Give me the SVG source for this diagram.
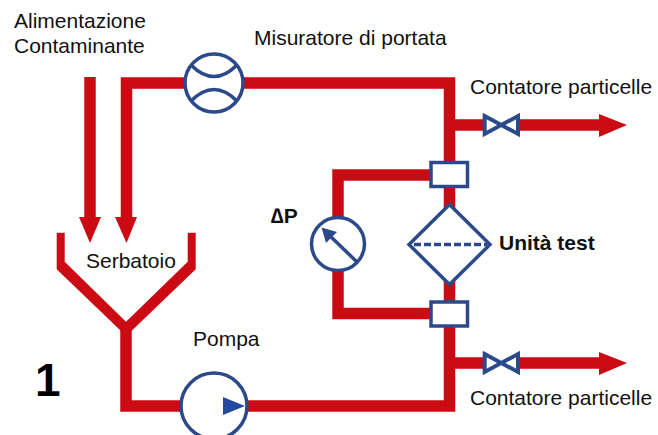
<svg xmlns="http://www.w3.org/2000/svg" width="658" height="435" viewBox="0 0 658 435">
<style>
text{font-family:"Liberation Sans",Arial,sans-serif;font-size:21px;fill:#111}
.b{font-weight:bold}
.pipe{fill:none;stroke:#cc0a14;stroke-width:11.5;stroke-linejoin:miter}
.red{fill:#cc0a14}
.sym{fill:#fff;stroke:#2c4a8a;stroke-width:3.500}
.line{fill:none;stroke:#2c4a8a;stroke-width:3.500}
.valve{fill:#fff;stroke:#2c4a8a;stroke-width:4}
</style>
<rect width="658" height="435" fill="#fff"/>
<g id="connectors">
<path class="pipe" d="M126.500 218V83H449.500V406H126V330"/>
<path class="pipe" d="M338 244V175H431M338 244V313.500H431"/>
<path class="pipe" d="M449.500 125H486M517 125H600M449.500 363H486M517 363H600"/>
<path class="pipe" d="M90 77V218"/>
<path class="red" d="M79 217H101L90 243ZM115 217H137L126.500 243ZM599 114L627 125L599 137ZM599 352L627 363L599 375Z"/>
<path class="red" d="M56.700 232.700H64.700V261.700L126 321.700L187.700 261.700V232.700H195.700V269.300L131.700 330.700H120.700L56.700 269.300Z"/>
</g>
<g id="flowmeter"><circle class="sym" cx="214" cy="83" r="29"/><path class="line" d="M191 65Q214 88 237 65M191 101Q214 78 237 101"/></g>
<g id="pump"><circle class="sym" cx="214" cy="406" r="33"/><path fill="#2448a0" d="M223 397L245 406L223 415Z"/></g>
<g id="gauge"><circle class="sym" cx="338" cy="244" r="26.500"/><path class="line" d="M356.500 261.500L328 234"/><path fill="#2c4a8a" d="M321.500 227.500L337 232L326 243Z"/></g>
<g id="test-unit"><path class="sym" d="M449.500 204.500L490 244.500L449.500 284.500L409 244.500Z"/><path class="line" d="M414 244.500H487" stroke-width="3" stroke-dasharray="7 3"/></g>
<g id="port-top"><rect class="sym" x="431" y="162.500" width="36.500" height="24"/></g>
<g id="port-bottom"><rect class="sym" x="431" y="302" width="36.500" height="24"/></g>
<g id="valve-top"><path class="valve" d="M484.700 116L518 134V116L484.700 134Z"/></g>
<g id="valve-bottom"><path class="valve" d="M484.700 354L518 372V354L484.700 372Z"/></g>
<g id="labels">
<text x="14" y="28">Alimentazione</text>
<text x="14" y="53">Contaminante</text>
<text x="254" y="45">Misuratore di portata</text>
<text x="470" y="94">Contatore particelle</text>
<text x="470" y="405">Contatore particelle</text>
<text x="86" y="268">Serbatoio</text>
<text x="193" y="346">Pompa</text>
<text class="b" x="271" y="223">∆P</text>
<text class="b" x="499" y="250">Unità test</text>
<text class="b" x="35" y="396" style="font-size:46px;fill:#000">1</text>
</g>
</svg>
